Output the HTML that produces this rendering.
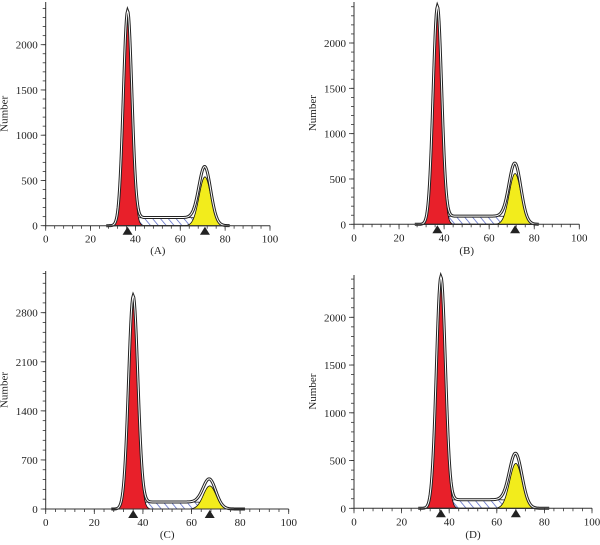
<!DOCTYPE html>
<html><head><meta charset="utf-8"><style>
html,body{margin:0;padding:0;background:#fff;width:600px;height:545px;overflow:hidden}
svg text{font-family:"Liberation Serif",serif;font-size:11px;fill:#222}
</style></head><body>
<svg id="fig" width="600" height="545" viewBox="0 0 600 545" xmlns="http://www.w3.org/2000/svg">
<defs>
<pattern id="hatch" patternUnits="userSpaceOnUse" width="6" height="6" patternTransform="rotate(-40)">
<rect width="6" height="6" fill="#fff"/><line x1="0" y1="0" x2="0" y2="6" stroke="#4a5bbf" stroke-width="1.4"/>
</pattern>
</defs>
</svg>
<script>
// Data arrays per panel (A, B, C, D)
const panelLabels = ["(A)", "(B)", "(C)", "(D)"];
const g1Mean = [36.5, 37, 36, 36.5];
const g1Height = [2300, 2330, 2950, 2350];
const g2Mean = [71, 71.5, 67.5, 68];
const g2Height = [540, 560, 330, 470];
const sPhase = [90, 90, 100, 90];
const yTickLabels = [[0,500,1000,1500,2000],[0,500,1000,1500,2000],[0,700,1400,2100,2800],[0,500,1000,1500,2000]];
const xTickLabels = [0,20,40,60,80,100];
const yMinorStep = [100,100,140,100];

// layout (not data)
const layout = [
 {x0:45.7,x1:270,y0:225.7,yRefPx:44.7,yRef:2000,top:2,lab:254},
 {x0:354,x1:579.3,y0:224.3,yRefPx:43,yRef:2000,top:2,lab:254},
 {x0:45.7,x1:288.7,y0:509,yRefPx:312.7,yRef:2800,top:271,lab:538},
 {x0:354,x1:592,y0:508.3,yRefPx:317.3,yRef:2000,top:275,lab:538}
];
const svg = document.getElementById('fig');
const NS = "http://www.w3.org/2000/svg";
function mk(tag, attrs, parent){const e=document.createElementNS(NS,tag);for(const k in attrs)e.setAttribute(k,attrs[k]);(parent||svg).appendChild(e);return e;}
function gauss(x,m,s,h){return h*Math.exp(-0.5*((x-m)/s)**2);}
function sig(x,a,w){return 1/(1+Math.exp(-(x-a)/w));}

layout.forEach((L,i)=>{
  const g = mk('g',{});
  
  
  const sx = v => L.x0 + (L.x1-L.x0)*v/100;
  const sy = v => L.y0 - (L.y0-L.yRefPx)*v/L.yRef;
  const m1=g1Mean[i], m2=g2Mean[i], s1=1.9, s2=2.6;
  const G1 = x=>gauss(x,m1,s1,g1Height[i]);
  const G2 = x=>gauss(x,m2,s2,g2Height[i]);
  const S = x=>sPhase[i]*sig(x,m1+1,1.2)*(1-sig(x,m2+1,1.6));
  const xs=[]; for(let x=27;x<=82;x+=0.25) xs.push(x);
  const area=(f)=>{let d='M'+sx(xs[0])+','+sy(0);xs.forEach(x=>{d+='L'+sx(x).toFixed(2)+','+sy(f(x)).toFixed(2);});return d+'L'+sx(xs[xs.length-1])+','+sy(0)+'Z';};
  const line=(f)=>{let d='';xs.forEach((x,k)=>{d+=(k?'L':'M')+sx(x).toFixed(2)+','+sy(f(x)).toFixed(2);});return d;};
  let e;
  e=mk('path',{d:area(S),fill:'url(#hatch)',stroke:'#222','stroke-width':0.8},g);
  
  
  e=mk('path',{d:area(G1),fill:'#e8202a',stroke:'#111','stroke-width':0.8},g);
  
  
  e=mk('path',{d:area(G2),fill:'#f2ec1c',stroke:'#111','stroke-width':0.8},g);
  
  
  const T = x=>G1(x)+G2(x)+S(x)+gauss(x,m1,s1*1.1,g1Height[i]*0.02)+gauss(x,m2,s2*1.2,g2Height[i]*0.1);
  mk('path',{d:line(T),fill:'none',stroke:'#222','stroke-width':3},g);
  e=mk('path',{d:line(T),fill:'none',stroke:'#fff','stroke-width':1},g);
  
  
  // axes
  e=mk('line',{x1:L.x0,y1:L.top,x2:L.x0,y2:L.y0,stroke:'#333','stroke-width':1},g);
  
  
  e=mk('line',{x1:L.x0,y1:L.y0,x2:L.x1,y2:L.y0,stroke:'#333','stroke-width':1},g);
  
  
  for(let v=0;v<=100;v+=4){mk('line',{x1:sx(v),y1:L.y0,x2:sx(v),y2:L.y0+3,stroke:'#333','stroke-width':0.8},g);}
  xTickLabels.forEach(v=>{
    mk('line',{x1:sx(v),y1:L.y0,x2:sx(v),y2:L.y0+5,stroke:'#333','stroke-width':0.8},g);
    const t=mk('text',{x:sx(v),y:L.y0+17,'text-anchor':'middle'},g);t.textContent=v;
    
    
  });
  for(let v=0;sy(v)>=L.top;v+=yMinorStep[i]){mk('line',{x1:L.x0-3,y1:sy(v),x2:L.x0,y2:sy(v),stroke:'#333','stroke-width':0.8},g);}
  yTickLabels[i].forEach(v=>{
    mk('line',{x1:L.x0-5,y1:sy(v),x2:L.x0,y2:sy(v),stroke:'#333','stroke-width':0.8},g);
    const t=mk('text',{x:L.x0-8,y:sy(v)+4,'text-anchor':'end'},g);t.textContent=v;
    
    
  });
  const yt=mk('text',{x:0,y:0,'text-anchor':'middle',transform:`translate(${L.x0-38},${(L.top+L.y0)/2}) rotate(-90)`},g);
  yt.textContent='Number';
  
  
  [m1,m2].forEach(m=>{
    const p=mk('path',{d:`M${sx(m)-5},${L.y0+9}L${sx(m)+5},${L.y0+9}L${sx(m)},${L.y0+1}Z`,fill:'#222'},g);
    
    
  });
  const lt=mk('text',{x:(L.x0+L.x1)/2,y:L.lab,'text-anchor':'middle'},g);
  lt.textContent=panelLabels[i];
  
  
});
</script>
</body></html>
